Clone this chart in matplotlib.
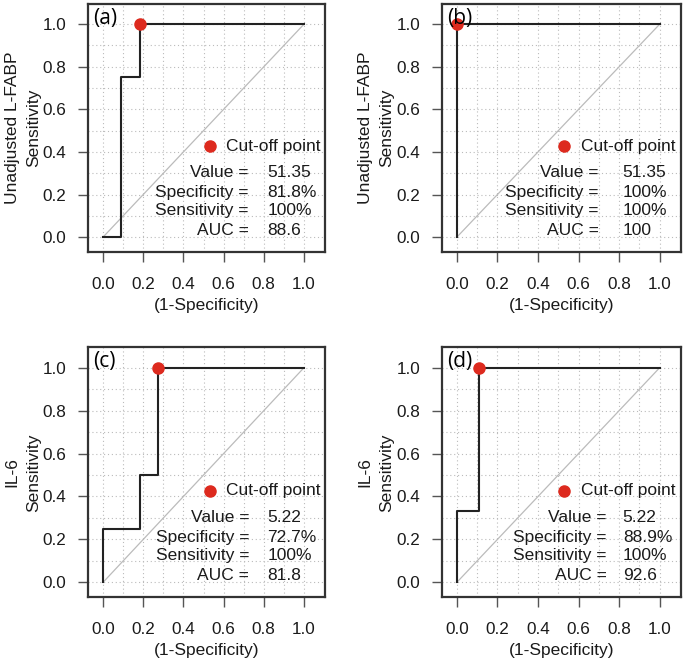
import numpy as np
import matplotlib
matplotlib.use('Agg')
import matplotlib.pyplot as plt

plt.rcParams['font.family'] = ['Liberation Sans', 'DejaVu Sans']

# ROC step curves (1-specificity, sensitivity) for each panel
fpr_a = [0, 1/11, 1/11, 2/11, 2/11, 1]
tpr_a = [0, 0, 0.75, 0.75, 1, 1]
fpr_b = [0, 0, 1]
tpr_b = [0, 1, 1]
fpr_c = [0, 0, 2/11, 2/11, 3/11, 3/11, 1]
tpr_c = [0, 0.25, 0.25, 0.5, 0.5, 1, 1]
fpr_d = [0, 0, 1/9, 1/9, 1]
tpr_d = [0, 1/3, 1/3, 1, 1]

# cut-off points
cut_x = [2/11, 0.0, 3/11, 1/9]
cut_y = [1.0, 1.0, 1.0, 1.0]

panel_tags = ['(a)', '(b)', '(c)', '(d)']
marker_names = ['Unadjusted L-FABP', 'Unadjusted L-FABP', 'IL-6', 'IL-6']
stat_names = ['Value =', 'Specificity =', 'Sensitivity =', 'AUC =']
stat_vals = [
  ['51.35', '81.8%', '100%', '88.6'],
  ['51.35', '100%', '100%', '100'],
  ['5.22', '72.7%', '100%', '81.8'],
  ['5.22', '88.9%', '100%', '92.6'],
]

curves = [(fpr_a, tpr_a), (fpr_b, tpr_b), (fpr_c, tpr_c), (fpr_d, tpr_d)]
red = '#DD2A1E'

fig = plt.figure(figsize=(6.85, 6.64), dpi=100)
boxes = [
  [0.1285, 0.6205, 0.346, 0.3735],
  [0.6448, 0.6205, 0.3493, 0.3735],
  [0.1285, 0.1004, 0.346, 0.3765],
  [0.6448, 0.1004, 0.3493, 0.3765],
]
lab_right = [0.725, 0.70, 0.728, 0.738]

for i in range(4):
  ax = fig.add_axes(boxes[i])
  ax.set_xlim(-0.075, 1.105)
  ax.set_ylim(-0.07, 1.095)

  # dotted grid every 0.1
  for g in np.arange(0, 1.01, 0.1):
    ax.axvline(g, color='#BBBBBB', lw=0.8, ls=(0, (1, 2.5)), zorder=0)
    ax.axhline(g, color='#BBBBBB', lw=0.8, ls=(0, (1, 2.5)), zorder=0)

  ax.plot([0, 1], [0, 1], color='#BBBBBB', lw=0.9, zorder=1)
  fx, ty = curves[i]
  ax.plot(fx, ty, color='#222222', lw=1.5, zorder=2)
  ax.plot(cut_x[i], cut_y[i], 'o', color=red, ms=8, zorder=3, clip_on=False)

  # legend-like annotation
  ax.plot(0.53, 0.427, 'o', color=red, ms=8, zorder=3)
  ax.text(0.61, 0.427, 'Cut-off point', fontsize=12.5, ha='left', va='center', color='#1a1a1a')
  ys = [0.302, 0.209, 0.124, 0.033]
  for k in range(4):
    ax.text(lab_right[i], ys[k], stat_names[k], fontsize=12.5, ha='right', va='center', color='#1a1a1a')
    ax.text(0.818, ys[k], stat_vals[i][k], fontsize=12.5, ha='left', va='center', color='#1a1a1a')

  ax.text(-0.05, 1.028, panel_tags[i], fontsize=15, family='Open Sans', ha='left', va='center', zorder=4)

  ax.set_xticks([0, 0.2, 0.4, 0.6, 0.8, 1.0])
  ax.set_yticks([0, 0.2, 0.4, 0.6, 0.8, 1.0])
  ax.set_xticklabels(['0.0', '0.2', '0.4', '0.6', '0.8', '1.0'])
  ax.set_yticklabels(['0.0', '0.2', '0.4', '0.6', '0.8', '1.0'])
  ax.tick_params(axis='x', length=7.5, width=1, color='#555555', labelsize=12.3, pad=10.5, labelcolor='#1a1a1a')
  ax.tick_params(axis='y', length=7.5, width=1, color='#555555', labelsize=12.3, pad=8, labelcolor='#1a1a1a')
  for s in ax.spines.values():
    s.set_linewidth(1.6)
    s.set_color('#333333')

  ax.text(0.5, -0.214, '(1-Specificity)', transform=ax.transAxes, fontsize=12.5, ha='center', va='center', color='#1a1a1a')
  ax.text(-0.32, 0.5, marker_names[i], transform=ax.transAxes, rotation=90, fontsize=12.5, ha='center', va='center', color='#1a1a1a')
  ax.text(-0.231, 0.5, 'Sensitivity', transform=ax.transAxes, rotation=90, fontsize=12.5, ha='center', va='center', color='#1a1a1a')

fig.savefig('out.png', dpi=100)
